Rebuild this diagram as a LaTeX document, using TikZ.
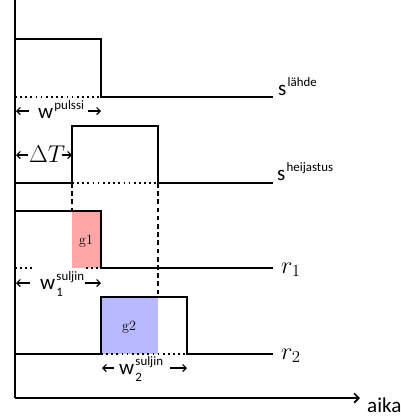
\documentclass[tikz,border=0pt]{standalone}
\usepackage{amsmath}
\usepackage{fontspec}
\usepackage{tikz}
\usetikzlibrary{arrows.meta, positioning}
\newfontfamily\calibri{Carlito}
\newcommand{\supfont}{\fontsize{11}{13}\selectfont}
\newcommand{\sigsup}[2]{#1\kern1pt\raisebox{0.42em}{\supfont #2}}
\newcommand{\sigboth}[3]{#1\kern1pt\rlap{\raisebox{-0.35em}{\supfont #3}}\raisebox{0.42em}{\supfont #2}}

\begin{document}
\begin{tikzpicture}[
    x=0.03cm, y=-0.03cm,
    signal/.style={line width=1.4pt},
    axis/.style={line width=1.4pt,-{Straight Barb[length=4pt,width=8pt]}},
    span/.style={line width=1pt,-{Straight Barb[length=3pt,width=6pt]}},
    guide/.style={line width=1.4pt, dash pattern=on 1.4pt off 3pt},
    link/.style={line width=1.4pt, dash pattern=on 4pt off 3pt},
    lbl/.style={font=\calibri\fontsize{18}{21}\selectfont, inner sep=0pt, anchor=base west},
    rlbl/.style={font=\fontsize{20}{24}\selectfont, inner sep=0pt, anchor=base west},
    gate/.style={font=\large, inner sep=1pt}
]
\useasboundingbox (0,0) rectangle (401,418);

% gate areas
\fill[red!35] (72,211) rectangle (101,268);
\fill[blue!28] (101,297) rectangle (158,354);
\node (g1) [gate] at (86,241) {g1};
\node (g2) [gate] at (129,327) {g2};

% axes
\coordinate (ytop) at (15,0);
\coordinate (origin) at (15,398);
\coordinate (xend) at (360,398);
\draw [signal] (ytop) -- (origin);
\draw [axis] (origin) -- (xend);
\node (aika) [lbl] at (367,412) {aika};

% source pulse
\draw [signal] (15,39) -| (101,97) -- (273,97);
\draw [guide] (15,97) -- (101,97);
\node (slahde) [lbl] at (278,95) {\sigsup{s}{lähde}};

% reflected pulse
\draw [signal] (15,183) -| (72,126) -| (158,183) -- (273,183);
\draw [guide] (72,183) -- (158,183);
\node (sheij) [lbl] at (277,180) {\sigsup{s}{heijastus}};

% gate 1
\draw [signal] (15,211) -| (101,268) -- (273,268);
\draw [guide] (15,268) -- (35,268);
\draw [guide] (86,268) -- (101,268);
\node (r1) [rlbl] at (281,273) {$r_1$};

% gate 2
\draw [signal] (15,354) -| (101,297) -| (187,354) -- (273,354);
\draw [guide] (101,354) -- (187,354);
\node (r2) [rlbl] at (281,359) {$r_2$};

% guides between pulses
\draw [link] (72,183) -- (72,211);
\draw [link] (158,183) -- (158,297);

% widths
\node (wp) [lbl] at (38,118) {\sigsup{w}{pulssi}};
\coordinate (wpA) at (29,111);
\coordinate (wpB) at (88,111);
\draw [span] (wpA) -- (16,111);
\draw [span] (wpB) -- (101,111);

\node (dt) [rlbl] at (29,162) {$\Delta T$};
\coordinate (dtA) at (28,155);
\coordinate (dtB) at (62,155);
\draw [span] (dtA) -- (16,155);
\draw [span] (dtB) -- (72,155);

\node (w1) [lbl] at (40,289) {\sigboth{w}{suljin}{1}};
\coordinate (w1A) at (30,283);
\coordinate (w1B) at (85,283);
\draw [span] (w1A) -- (16,283);
\draw [span] (w1B) -- (101,283);

\node (w2) [lbl] at (119,374) {\sigboth{w}{suljin}{2}};
\coordinate (w2A) at (114,368);
\coordinate (w2B) at (170,368);
\draw [span] (w2A) -- (102,368);
\draw [span] (w2B) -- (187,368);

\end{tikzpicture}
\end{document}
